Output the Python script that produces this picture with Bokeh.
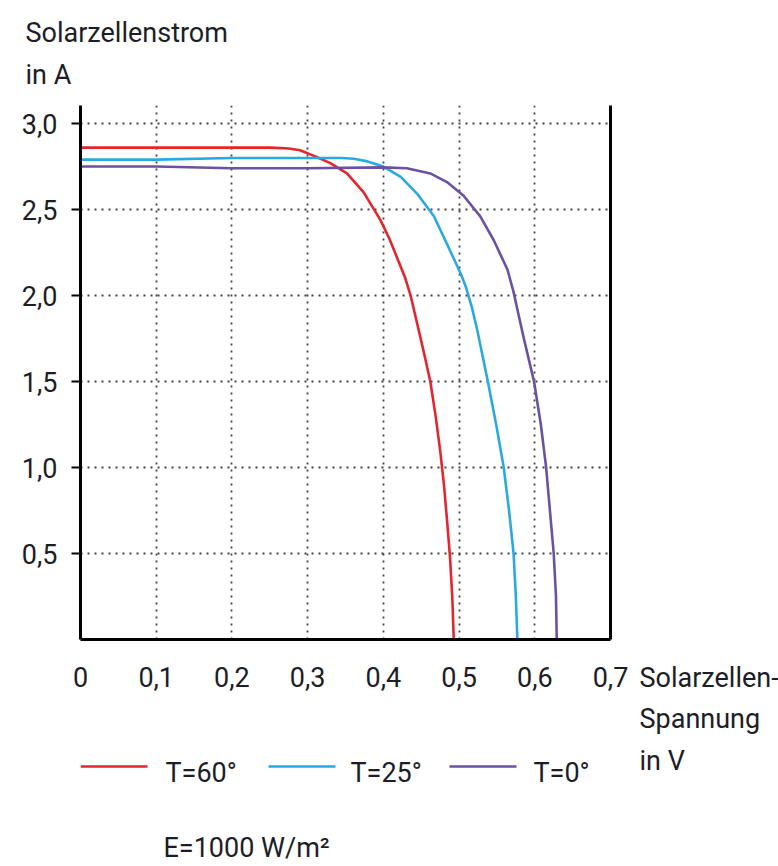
from bokeh.plotting import figure
from bokeh.layouts import row, column
from bokeh.models import Range1d, LinearAxis, FixedTicker, Title
from bokeh.core.properties import value
from bokeh.embed import file_html
from bokeh.resources import INLINE

# Kennlinien einer Solarzelle bei E = 1000 W/m² (Spannung in V, Strom in A)
v_60 = [0.0, 0.1, 0.2, 0.25, 0.275, 0.29, 0.301, 0.315, 0.330, 0.352, 0.374, 0.396,
        0.408, 0.420, 0.429, 0.436, 0.445, 0.454, 0.462, 0.469, 0.475, 0.480, 0.484,
        0.488, 0.491, 0.493]
i_60 = [2.86, 2.86, 2.86, 2.86, 2.855, 2.845, 2.825, 2.80, 2.77, 2.71, 2.60, 2.44,
        2.33, 2.20, 2.10, 2.00, 1.83, 1.66, 1.50, 1.30, 1.10, 0.90, 0.70,
        0.48, 0.25, 0.0]

v_25 = [0.0, 0.1, 0.2, 0.3, 0.345, 0.361, 0.379, 0.400, 0.423, 0.445, 0.467, 0.484,
        0.502, 0.509, 0.517, 0.524, 0.531, 0.538, 0.549, 0.559, 0.566, 0.572, 0.575, 0.577]
i_25 = [2.79, 2.79, 2.80, 2.80, 2.80, 2.795, 2.78, 2.75, 2.69, 2.59, 2.46, 2.30,
        2.13, 2.05, 1.93, 1.80, 1.65, 1.50, 1.25, 1.00, 0.75, 0.50, 0.25, 0.0]

v_0 = [0.0, 0.1, 0.2, 0.3, 0.4, 0.431, 0.462, 0.484, 0.506, 0.528, 0.546, 0.564,
       0.572, 0.578, 0.585, 0.592, 0.599, 0.608, 0.615, 0.620, 0.625, 0.628, 0.629]
i_0 = [2.75, 2.75, 2.74, 2.74, 2.745, 2.74, 2.71, 2.66, 2.58, 2.46, 2.32, 2.15,
       2.02, 1.90, 1.76, 1.63, 1.50, 1.25, 1.00, 0.75, 0.50, 0.25, 0.0]

series_labels = ["T=60°", "T=25°", "T=0°"]
series_colors = ["#e3262d", "#2aa9e0", "#6a52a3"]

x_ticks = [0.0, 0.1, 0.2, 0.3, 0.4, 0.5, 0.6, 0.7]
x_tick_labels = ["0", "0,1", "0,2", "0,3", "0,4", "0,5", "0,6", "0,7"]
y_ticks = [0.5, 1.0, 1.5, 2.0, 2.5, 3.0]
y_tick_labels = ["0,5", "1,0", "1,5", "2,0", "2,5", "3,0"]

y_title = "Solarzellenstrom\nin A"
x_title_lines = ["Solarzellen-", "Spannung", "in V"]
note = "E=1000 W/m²"

FONT = "Roboto"
TEXT_COLOR = "#1d1d27"
FS = "27px"

MAIN_W, MAIN_H = 638, 700
SIDE_W = 778 - MAIN_W
FOOT_H = 866 - MAIN_H
LEFT, RIGHT = 80, 28          # borders around the plotting frame


def strip(width, height, left=0, right=0):
    """A frame-only figure for captions and legend, in pixel units."""
    f = figure(width=width, height=height, output_backend="svg", toolbar_location=None,
               x_range=Range1d(left, width - right), y_range=Range1d(0, height),
               x_axis_location=None, y_axis_location=None, min_border=0,
               min_border_left=left, min_border_right=right)
    f.outline_line_color = None
    f.background_fill_color = "white"
    f.border_fill_color = "white"
    f.grid.visible = False
    return f


def put_text(f, x, y, txt):
    f.text(x=[x], y=[y], text=[txt], text_font=value(FONT), text_font_size=value(FS),
           text_color=TEXT_COLOR, text_baseline="alphabetic", text_align="left")


# ---- main chart -------------------------------------------------------------
p = figure(width=MAIN_W, height=MAIN_H, output_backend="svg", toolbar_location=None,
           x_range=Range1d(0, 0.7), y_range=Range1d(0, 3.105),
           min_border_left=LEFT, min_border_right=RIGHT,
           min_border_top=105, min_border_bottom=61)
p.outline_line_color = None
p.background_fill_color = "white"
p.border_fill_color = "white"

xa = p.xaxis[0]
xa.ticker = FixedTicker(ticks=x_ticks)
xa.major_label_overrides = dict(zip(x_ticks, x_tick_labels))
xa.axis_line_width = 3
xa.axis_line_color = "black"
xa.major_tick_out = 0
xa.major_tick_in = 0
xa.minor_tick_out = 0
xa.minor_tick_in = 0
xa.major_label_standoff = 27
xa.major_label_text_font = FONT
xa.major_label_text_font_size = FS
xa.major_label_text_color = TEXT_COLOR

ya = p.yaxis[0]
ya.ticker = FixedTicker(ticks=y_ticks)
ya.major_label_overrides = dict(zip(y_ticks, y_tick_labels))
ya.axis_line_width = 3
ya.axis_line_color = "black"
ya.major_tick_out = 9
ya.major_tick_in = 0
ya.major_tick_line_width = 2
ya.minor_tick_out = 0
ya.minor_tick_in = 0
ya.major_label_standoff = 14
ya.major_label_text_font = FONT
ya.major_label_text_font_size = FS
ya.major_label_text_color = TEXT_COLOR

# right frame edge
right = LinearAxis(ticker=FixedTicker(ticks=[]), axis_line_width=3,
                   axis_line_color="black", major_tick_out=0, minor_tick_out=0,
                   major_label_text_font_size="0px")
p.add_layout(right, "right")

for g in (p.xgrid[0], p.ygrid[0]):
    g.grid_line_color = "#222222"
    g.grid_line_dash = "2 5"
    g.grid_line_width = 1.8
    g.grid_line_alpha = 0.85

for v, i, c in zip([v_60, v_25, v_0], [i_60, i_25, i_0], series_colors):
    p.line(v, i, line_color=c, line_width=2.6, line_join="round")

p.add_layout(Title(text=y_title, align="left", offset=-55, standoff=29,
                   text_font=FONT, text_font_size=FS, text_font_style="normal",
                   text_color=TEXT_COLOR, text_line_height=1.3), "above")

# ---- legend strip below the chart -------------------------------------------
foot = strip(MAIN_W, FOOT_H, LEFT, RIGHT)
swatch_x0 = [80, 268, 449]
label_x = [165, 350, 533]
foot.segment(x0=swatch_x0, y0=[100] * 3, x1=[x + 67 for x in swatch_x0], y1=[100] * 3,
             line_color=series_colors, line_width=2.6)
for lx, lab in zip(label_x, series_labels):
    put_text(foot, lx, 94, lab)
put_text(foot, 163, 19, note)

# ---- x-axis caption at the right --------------------------------------------
side = strip(SIDE_W, 866)
for yy, txt in zip([189, 148, 106], x_title_lines):
    put_text(side, 1, yy, txt)

layout = row(column(p, foot, spacing=0), side, spacing=0)
open("out.html", "w").write(file_html(layout, INLINE))
